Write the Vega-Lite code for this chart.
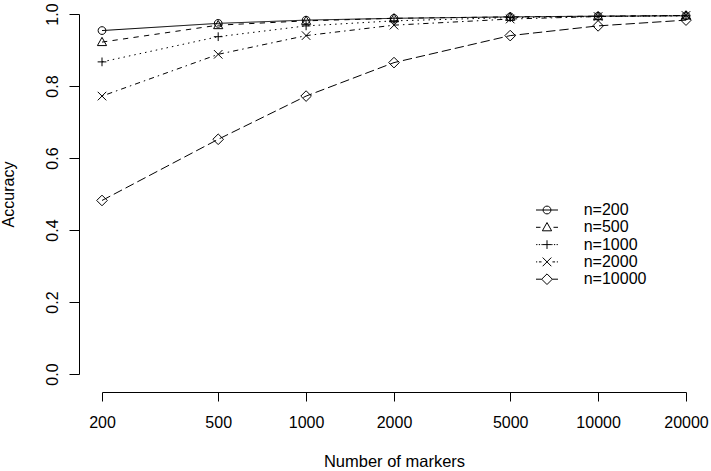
{
  "$schema": "https://vega.github.io/schema/vega-lite/v6.json",
  "autosize": "none",
  "width": 584,
  "height": 360,
  "padding": {"left": 102, "top": 14, "right": 25, "bottom": 97},
  "background": "white",
  "config": {
    "view": {"stroke": null},
    "font": "Liberation Sans",
    "axis": {
      "domainColor": "black", "tickColor": "black", "labelColor": "black", "titleColor": "black",
      "labelFontSize": 16, "titleFontSize": 16, "titleFontWeight": "normal", "grid": false,
      "labelFont": "Liberation Sans", "titleFont": "Liberation Sans"
    },
    "legend": {
      "orient": "none", "legendX": 437, "legendY": 188,
      "labelFontSize": 16, "labelFont": "Liberation Sans", "labelColor": "black",
      "symbolSize": 196, "symbolStrokeWidth": 1, "symbolStrokeColor": "black",
      "symbolFillColor": "transparent", "rowPadding": 1.3, "labelOffset": 28.7
    }
  },
  "data": {
    "values": [
      {"markers": 200, "acc": 0.954, "series": "n=200"},
      {"markers": 500, "acc": 0.974, "series": "n=200"},
      {"markers": 1000, "acc": 0.983, "series": "n=200"},
      {"markers": 2000, "acc": 0.988, "series": "n=200"},
      {"markers": 5000, "acc": 0.992, "series": "n=200"},
      {"markers": 10000, "acc": 0.994, "series": "n=200"},
      {"markers": 20000, "acc": 0.995, "series": "n=200"},
      {"markers": 200, "acc": 0.922, "series": "n=500"},
      {"markers": 500, "acc": 0.969, "series": "n=500"},
      {"markers": 1000, "acc": 0.981, "series": "n=500"},
      {"markers": 2000, "acc": 0.988, "series": "n=500"},
      {"markers": 5000, "acc": 0.992, "series": "n=500"},
      {"markers": 10000, "acc": 0.994, "series": "n=500"},
      {"markers": 20000, "acc": 0.996, "series": "n=500"},
      {"markers": 200, "acc": 0.867, "series": "n=1000"},
      {"markers": 500, "acc": 0.937, "series": "n=1000"},
      {"markers": 1000, "acc": 0.967, "series": "n=1000"},
      {"markers": 2000, "acc": 0.981, "series": "n=1000"},
      {"markers": 5000, "acc": 0.99, "series": "n=1000"},
      {"markers": 10000, "acc": 0.993, "series": "n=1000"},
      {"markers": 20000, "acc": 0.995, "series": "n=1000"},
      {"markers": 200, "acc": 0.772, "series": "n=2000"},
      {"markers": 500, "acc": 0.888, "series": "n=2000"},
      {"markers": 1000, "acc": 0.94, "series": "n=2000"},
      {"markers": 2000, "acc": 0.969, "series": "n=2000"},
      {"markers": 5000, "acc": 0.986, "series": "n=2000"},
      {"markers": 10000, "acc": 0.993, "series": "n=2000"},
      {"markers": 20000, "acc": 0.996, "series": "n=2000"},
      {"markers": 200, "acc": 0.482, "series": "n=10000"},
      {"markers": 500, "acc": 0.652, "series": "n=10000"},
      {"markers": 1000, "acc": 0.772, "series": "n=10000"},
      {"markers": 2000, "acc": 0.865, "series": "n=10000"},
      {"markers": 5000, "acc": 0.94, "series": "n=10000"},
      {"markers": 10000, "acc": 0.967, "series": "n=10000"},
      {"markers": 20000, "acc": 0.983, "series": "n=10000"}
    ]
  },
  "encoding": {
    "x": {
      "field": "markers", "type": "quantitative",
      "scale": {"type": "log", "domain": [200, 20000], "nice": false, "zero": false},
      "axis": {
        "values": [200, 500, 1000, 2000, 5000, 10000, 20000], "format": "d",
        "offset": 18, "tickSize": 9, "labelPadding": 13, "title": "Number of markers",
        "titlePadding": 23, "titleFontSize": 16.5, "labelFlush": false, "labelOverlap": false
      }
    },
    "y": {
      "field": "acc", "type": "quantitative",
      "scale": {"domain": [0, 1], "nice": false, "zero": false},
      "axis": {
        "values": [0, 0.2, 0.4, 0.6, 0.8, 1.0], "format": ".1f",
        "offset": 23, "tickSize": 10, "labelAngle": 270, "labelAlign": "center",
        "labelBaseline": "bottom", "labelPadding": 9, "title": "Accuracy", "titlePadding": 28,
        "labelFlush": false, "labelOverlap": false
      }
    }
  },
  "layer": [
    {
      "mark": {"type": "line", "color": "black", "strokeWidth": 1},
      "encoding": {
        "detail": {"field": "series"},
        "strokeDash": {
          "field": "series", "type": "nominal", "legend": null,
          "scale": {
            "domain": ["n=200", "n=500", "n=1000", "n=2000", "n=10000"],
            "range": [[1, 0], [5.3, 5.3], [1.5, 4], [1.5, 4, 5.3, 4], [9.3, 4]]
          }
        }
      }
    },
    {
      "mark": {"type": "point", "filled": false, "color": "black", "strokeWidth": 1, "size": 81, "opacity": 1},
      "encoding": {
        "shape": {
          "field": "series", "type": "nominal", "legend": null,
          "scale": {
            "domain": ["n=200", "n=500", "n=1000", "n=2000", "n=10000"],
            "range": [
              "M-0.86,0A0.86,0.86,0,1,0,0.86,0A0.86,0.86,0,1,0,-0.86,0Z",
              "M0,-1.05L1.02,0.78L-1.02,0.78Z",
              "M-0.97,0L0.97,0M0,-0.97L0,0.97",
              "M-0.95,-0.95L0.95,0.95M-0.95,0.95L0.95,-0.95",
              "M0,-1.18L1.18,0L0,1.18L-1.18,0Z"
            ]
          }
        }
      }
    },
    {
      "transform": [{"filter": "false"}],
      "mark": {"type": "point", "filled": false, "color": "black", "strokeWidth": 1, "size": 196, "opacity": 1},
      "encoding": {
        "shape": {
          "field": "series", "type": "nominal", "legend": {"title": null},
          "scale": {
            "domain": ["n=200", "n=500", "n=1000", "n=2000", "n=10000"],
            "range": [
              "M-1.57,0L1.57,0M-0.56,0A0.56,0.56,0,1,0,0.56,0A0.56,0.56,0,1,0,-0.56,0Z",
              "M-1.57,0L-0.93,0M0.93,0L1.57,0M0,-0.68L0.66,0.5L-0.66,0.5Z",
              "M-1.55,0L-1.37,0M-1.17,0L-0.99,0M-0.79,0L-0.61,0M0.61,0L0.79,0M0.99,0L1.17,0M1.37,0L1.55,0M-0.62,0L0.62,0M0,-0.62L0,0.62",
              "M-1.57,0L-1.4,0M-1.15,0L-0.78,0M0.78,0L1.15,0M1.4,0L1.57,0M-0.62,-0.62L0.62,0.62M-0.62,0.62L0.62,-0.62",
              "M-1.57,0L-0.76,0M0.76,0L1.57,0M0,-0.76L0.76,0L0,0.76L-0.76,0Z"
            ]
          }
        }
      }
    }
  ],
  "resolve": {
    "scale": {"shape": "independent", "strokeDash": "independent"},
    "legend": {"shape": "independent", "strokeDash": "independent"}
  }
}
